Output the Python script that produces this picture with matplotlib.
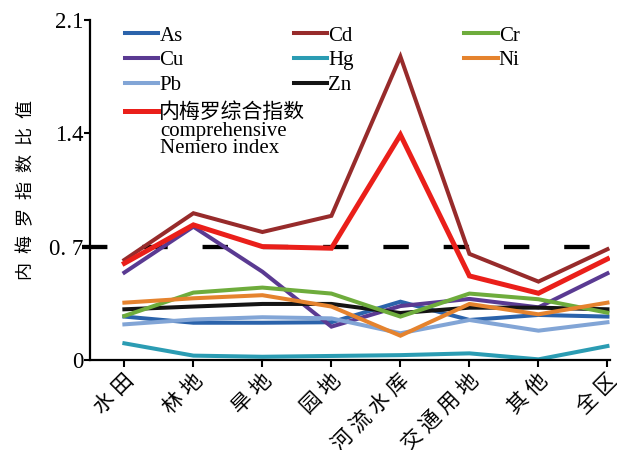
import matplotlib
matplotlib.use("Agg")
import matplotlib.pyplot as plt

plt.rcParams['font.family'] = ['Liberation Serif', 'Noto Sans CJK SC', 'DejaVu Sans']

categories = ["水田", "林地", "旱地", "园地", "河流水库", "交通用地", "其他", "全区"]

as_vals = [0.268, 0.23, 0.23, 0.233, 0.36, 0.247, 0.278, 0.268]
cd_vals = [0.618, 0.906, 0.79, 0.89, 1.873, 0.655, 0.484, 0.684]
cr_vals = [0.272, 0.416, 0.447, 0.41, 0.268, 0.41, 0.375, 0.292]
cu_vals = [0.54, 0.823, 0.545, 0.206, 0.333, 0.377, 0.325, 0.535]
hg_vals = [0.103, 0.027, 0.02, 0.025, 0.03, 0.041, 0.004, 0.086]
ni_vals = [0.354, 0.381, 0.40, 0.33, 0.15, 0.346, 0.282, 0.354]
pb_vals = [0.22, 0.25, 0.264, 0.257, 0.165, 0.247, 0.181, 0.233]
zn_vals = [0.313, 0.33, 0.346, 0.346, 0.29, 0.323, 0.323, 0.313]
nemero_vals = [0.597, 0.834, 0.70, 0.69, 1.39, 0.519, 0.412, 0.624]

threshold = 0.7
yticks = [0, 0.7, 1.4, 2.1]
ytick_labels = ["0", "0. 7", "1.4", "2.1"]

fig = plt.figure(figsize=(6.17, 4.5), dpi=100)
ax = fig.add_axes([0.146, 0.2, 0.843, 0.756])

x = list(range(len(categories)))
lw = 2.9
series = [
    ("As", as_vals, "#2b63ab"),
    ("Cu", cu_vals, "#5a3a92"),
    ("Pb", pb_vals, "#82a5d6"),
    ("Cd", cd_vals, "#972b2b"),
    ("Hg", hg_vals, "#2b9cb3"),
    ("Zn", zn_vals, "#141414"),
    ("Cr", cr_vals, "#6eac3c"),
    ("Ni", ni_vals, "#e5832e"),
]
handles = []
for name, vals, col in series:
    h, = ax.plot(x, vals, color=col, lw=lw, label=name, solid_joinstyle="miter")
    handles.append(h)

hn, = ax.plot(x, nemero_vals, color="#ea1f1a", lw=3.6, label="内梅罗综合指数",
              solid_joinstyle="miter")

ax.plot([-0.613, 6.78], [threshold, threshold], color="black", lw=3.1,
        dashes=(5.9, 8.1), clip_on=False, zorder=1)

ax.set_xlim(-0.497, 7.04)
ax.set_ylim(0, 2.1)
ax.set_yticks(yticks)
ax.set_yticklabels(ytick_labels, fontsize=16.5)
ax.set_xticks(x)
ax.set_xticklabels([" ".join(c) for c in categories], rotation=45, ha="right",
                   rotation_mode="anchor", fontsize=15)
ax.tick_params(axis="x", direction="out", length=5, width=1.5, pad=3)
ax.tick_params(axis="y", direction="out", length=4, width=1.5, pad=1)
for s in ["top", "right"]:
    ax.spines[s].set_visible(False)
for s in ["left", "bottom"]:
    ax.spines[s].set_linewidth(1.6)

ax.set_ylabel("内  梅  罗  指  数  比  值", fontsize=13, labelpad=10)

leg = ax.legend(handles=handles, ncol=3, loc="upper left",
                bbox_to_anchor=(0.067, 0.982), frameon=False, fontsize=15,
                handlelength=1.6, handletextpad=0.05, columnspacing=5.3,
                labelspacing=0.25, borderaxespad=0, borderpad=0)
ax.add_artist(leg)
ax.legend(handles=[hn], loc="upper left", bbox_to_anchor=(0.067, 0.755),
          frameon=False, fontsize=15, handlelength=1.6, handletextpad=0.05,
          borderaxespad=0, borderpad=0)
ax.text(0.135, 0.70, "comprehensive\nNemero index", transform=ax.transAxes,
        fontsize=15, va="top", ha="left", linespacing=0.9)

fig.savefig("out.png", dpi=100)
